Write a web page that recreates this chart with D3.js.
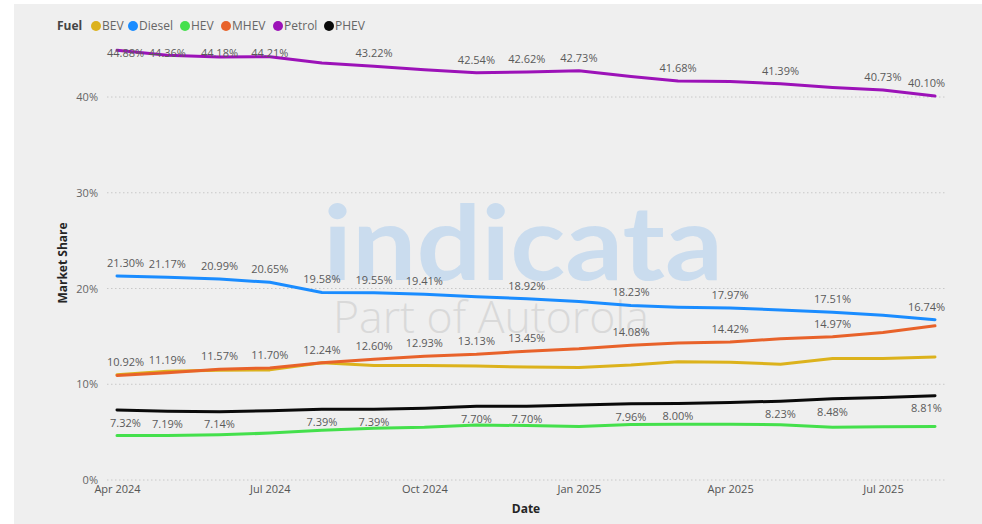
<!DOCTYPE html>
<html>
<head>
<meta charset="utf-8">
<script src="https://cdn.jsdelivr.net/npm/d3@7/dist/d3.min.js"></script>
<style>
  html, body { margin: 0; padding: 0; background: #ffffff; }
  svg { display: block; }
  text { font-family: "Open Sans", "Noto Sans", sans-serif; }
</style>
</head>
<body>
<svg id="chart" width="982" height="524"></svg>
<script>
// Monthly market share by fuel type (%)
const months = ["2024-04","2024-05","2024-06","2024-07","2024-08","2024-09","2024-10","2024-11",
                "2024-12","2025-01","2025-02","2025-03","2025-04","2025-05","2025-06","2025-07","2025-08"];
const bev    = [11.00,11.35,11.45,11.50,12.25,11.95,11.95,11.90,11.80,11.75,12.00,12.35,12.30,12.10,12.70,12.70,12.85];
const diesel = [21.30,21.17,20.99,20.65,19.58,19.55,19.41,19.15,18.92,18.65,18.23,18.05,17.97,17.75,17.51,17.20,16.74];
const hev    = [4.65,4.65,4.72,4.90,5.20,5.40,5.50,5.75,5.68,5.58,5.80,5.82,5.82,5.78,5.50,5.55,5.60];
const mhev   = [10.92,11.19,11.57,11.70,12.24,12.60,12.93,13.13,13.45,13.70,14.08,14.30,14.42,14.75,14.97,15.40,16.10];
const petrol = [44.88,44.36,44.18,44.21,43.55,43.22,42.85,42.54,42.62,42.73,42.15,41.68,41.62,41.39,41.00,40.73,40.10];
const phev   = [7.32,7.19,7.14,7.22,7.39,7.39,7.50,7.70,7.70,7.82,7.96,8.00,8.10,8.23,8.48,8.62,8.81];

// Points that carry a data label (month indices)
const petrolLabelIdx = [0,1,2,3,5,7,8,9,11,13,15,16];
const dieselLabelIdx = [0,1,2,3,4,5,6,8,10,12,14,16];
const mhevLabelIdx   = [0,1,2,3,4,5,6,7,8,10,12,14];
const phevLabelIdx   = [0,1,2,4,5,7,8,10,11,13,14,16];

const fuelNames  = ["BEV","Diesel","HEV","MHEV","Petrol","PHEV"];
const fuelColors = ["#dcb21c","#1a8cff","#44e04c","#e8622a","#9c12b8","#0a0a0a"];
const yTicks = [0,10,20,30,40];
const xTickMonths = ["2024-04","2024-07","2024-10","2025-01","2025-04","2025-07"];

const parse = d3.timeParse("%Y-%m");
const dates = months.map(parse);

const series = [
  { name: "BEV",    values: bev,    labels: [],             pos: "above" },
  { name: "Diesel", values: diesel, labels: dieselLabelIdx, pos: "above" },
  { name: "HEV",    values: hev,    labels: [],             pos: "above" },
  { name: "MHEV",   values: mhev,   labels: mhevLabelIdx,   pos: "above" },
  { name: "Petrol", values: petrol, labels: petrolLabelIdx, pos: "above" },
  { name: "PHEV",   values: phev,   labels: phevLabelIdx,   pos: "below" }
];

const svg = d3.select("#chart");
const W = 982, H = 524;
const plot = { left: 107, right: 945, top: 47, bottom: 480 };

// Canvas panel
svg.append("rect").attr("x", 14).attr("y", 4).attr("width", W - 14).attr("height", H - 4)
  .attr("fill", "#efefef");

const x = d3.scaleTime().domain([dates[0], dates[dates.length - 1]]).range([117, 935]);
const y = d3.scaleLinear().domain([0, 40]).range([480, 97]);
const color = d3.scaleOrdinal().domain(fuelNames).range(fuelColors);

// Gridlines
svg.append("g").selectAll("line").data(yTicks).join("line")
  .attr("x1", plot.left).attr("x2", plot.right)
  .attr("y1", d => y(d)).attr("y2", d => y(d))
  .attr("stroke", "#c8c8c8").attr("stroke-width", 1).attr("stroke-dasharray", "1.5,2.5");

// Y axis
const yAxis = svg.append("g").attr("transform", `translate(${plot.left - 9},0)`)
  .call(d3.axisLeft(y).tickValues(yTicks).tickSize(0).tickPadding(0).tickFormat(d => d + "%"));
yAxis.select(".domain").remove();
yAxis.selectAll("text").attr("fill", "#666").attr("font-size", 11).style("font-family", "'Open Sans', sans-serif");

// X axis
const xAxis = svg.append("g").attr("transform", `translate(0,${plot.bottom + 5})`)
  .call(d3.axisBottom(x).tickValues(xTickMonths.map(parse)).tickSize(0).tickPadding(0)
    .tickFormat(d3.timeFormat("%b %Y")));
xAxis.select(".domain").remove();
xAxis.selectAll("text").attr("fill", "#555").attr("font-size", 11).attr("dy", "0.75em")
  .style("font-family", "'Open Sans', sans-serif");

// Axis titles
svg.append("text").attr("x", 526).attr("y", 513).attr("text-anchor", "middle")
  .attr("font-size", 12).attr("font-weight", 700).attr("fill", "#252525").text("Date");
svg.append("text").attr("transform", "translate(67,263) rotate(-90)").attr("text-anchor", "middle")
  .attr("font-size", 12).attr("font-weight", 700).attr("fill", "#252525").text("Market Share");

// Watermark
svg.append("text").attr("x", 323).attr("y", 280)
  .attr("font-size", 104).attr("font-weight", 700).attr("fill", "#cadcee")
  .attr("textLength", 400).attr("lengthAdjust", "spacingAndGlyphs")
  .style("font-family", "Lato, 'Open Sans', sans-serif").text("indicata");
svg.append("text").attr("x", 333).attr("y", 333)
  .attr("font-size", 44).attr("font-weight", 300).attr("fill", "#d9d9d9")
  .attr("textLength", 316).attr("lengthAdjust", "spacingAndGlyphs")
  .style("font-family", "'Open Sans', sans-serif").text("Part of Autorola");

// Lines
const line = d3.line().x((d, i) => x(dates[i])).y(d => y(d));
svg.append("g").selectAll("path").data(series).join("path")
  .attr("d", s => line(s.values))
  .attr("fill", "none")
  .attr("stroke", s => color(s.name))
  .attr("stroke-width", 3)
  .attr("stroke-linejoin", "round")
  .attr("stroke-linecap", "round");

// Data labels
const fmt = v => v.toFixed(2) + "%";
const halfW = 18.5;
const labelData = [];
series.forEach(s => {
  s.labels.forEach(i => {
    const px = Math.min(Math.max(x(dates[i]), plot.left + halfW), plot.right - halfW);
    let py = s.pos === "above" ? y(s.values[i]) - 13 : y(s.values[i]) + 13;
    py = Math.max(py, 53);
    labelData.push({ x: px, y: py, text: fmt(s.values[i]) });
  });
});
svg.append("g").selectAll("text").data(labelData).join("text")
  .attr("x", d => d.x).attr("y", d => d.y).attr("dy", "0.35em")
  .attr("text-anchor", "middle").attr("font-size", 11).attr("fill", "#5a5a5a")
  .text(d => d.text);

// Legend
const legend = svg.append("g").attr("transform", "translate(57,26)");
legend.append("text").attr("x", 0).attr("y", 0).attr("dy", "0.35em")
  .attr("font-size", 12).attr("font-weight", 700).attr("fill", "#444").text("Fuel");
const legendX = [39, 76, 128, 169, 221, 272];
const items = legend.selectAll("g.item").data(fuelNames).join("g")
  .attr("class", "item").attr("transform", (d, i) => `translate(${legendX[i]},0)`);
items.append("circle").attr("cx", 0).attr("cy", 0).attr("r", 5).attr("fill", d => color(d));
items.append("text").attr("x", 6).attr("y", 0).attr("dy", "0.35em")
  .attr("font-size", 12).attr("fill", "#666").text(d => d);
</script>
</body>
</html>
